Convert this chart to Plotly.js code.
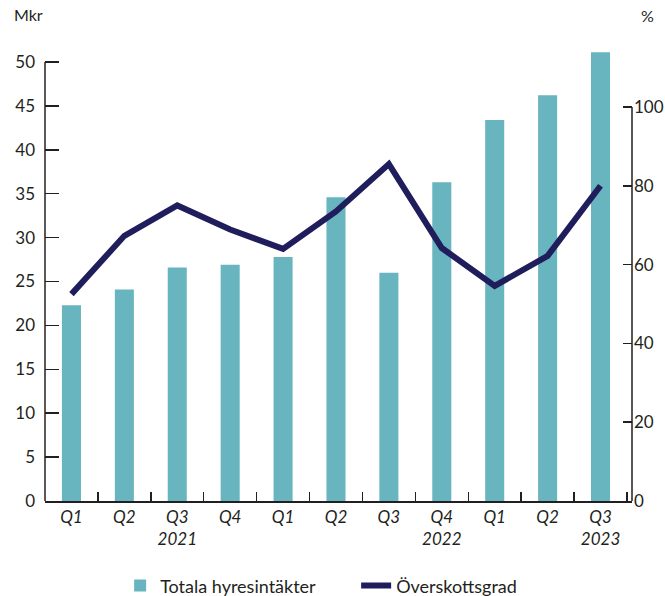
<!DOCTYPE html>
<html>
<head>
<meta charset="utf-8">
<script src="https://cdn.plot.ly/plotly-3.0.1.min.js"></script>
<style>html,body{margin:0;padding:0;background:#fff;}#chart{width:665px;height:596px;}</style>
</head>
<body>
<div id="chart"></div>
<script>
// Data
var categories = ["2021 Q1","2021 Q2","2021 Q3","2021 Q4","2022 Q1","2022 Q2","2022 Q3","2022 Q4","2023 Q1","2023 Q2","2023 Q3"];
var tickLabels = ["Q1","Q2","Q3<br>2021","Q4","Q1","Q2","Q3","Q4<br>2022","Q1","Q2","Q3<br>2023"];
var hyresintakter = [22.3, 24.1, 26.6, 26.9, 27.8, 34.6, 26.0, 36.3, 43.4, 46.2, 51.1];
var overskottsgrad = [52.5, 67.3, 75.0, 68.9, 64.0, 73.5, 85.5, 64.2, 54.6, 62.2, 80.0];
var leftTicks = [0,5,10,15,20,25,30,35,40,45,50];
var rightTicks = [0,20,40,60,80,100];
var seriesNames = ["Totala hyresintäkter","Överskottsgrad"];

var FONT = "Lato, 'Noto Sans', sans-serif";
var AX = "#231f20";
var barColor = "#69b5bf";
var lineColor = "#1f1d5b";

var traces = [
  {type:"bar", x:categories, y:hyresintakter, name:seriesNames[0],
   marker:{color:barColor}, width:0.36, yaxis:"y", hoverinfo:"skip"},
  {type:"scatter", mode:"lines", x:categories, y:overskottsgrad, name:seriesNames[1],
   line:{color:lineColor, width:6}, yaxis:"y2", hoverinfo:"skip"}
];

var rightMax = 117.0;
var leftMax = 52.5;

var layout = {
  width:665, height:596,
  margin:{l:45, r:33, t:40, b:95, autoexpand:false},
  paper_bgcolor:"#fff", plot_bgcolor:"#fff",
  font:{family:FONT, size:17, color:AX},
  showlegend:true,
  legend:{orientation:"h", x:0.128, xanchor:"left", y:-0.184, yanchor:"middle",
          font:{family:FONT, size:18, color:AX}, traceorder:"normal", itemwidth:30,
          entrywidth:191, entrywidthmode:"pixels"},
  bargap:0.64,
  xaxis:{type:"category", range:[-0.5, 10.595], tickvals:categories, ticktext:tickLabels,
         tickson:"boundaries", ticks:"inside", ticklen:9, tickwidth:1.5, tickcolor:AX,
         showline:true, linecolor:AX, linewidth:1.5, showgrid:false, zeroline:false,
         ticklabelstandoff:0,
         tickfont:{family:FONT, size:17, color:AX, style:"italic"}, fixedrange:true},
  yaxis:{range:[0,leftMax], tickvals:leftTicks, ticks:"inside", ticklen:14, tickwidth:1.5,
         tickcolor:AX, showline:false, showgrid:false, zeroline:false,
         ticklabelstandoff:9, tickfont:{family:FONT, size:17, color:AX}, fixedrange:true},
  yaxis2:{range:[0,rightMax], overlaying:"y", side:"right", tickvals:rightTicks, ticks:"inside",
          ticklen:9, tickwidth:1.5, tickcolor:AX, showline:false, showgrid:false, zeroline:false,
          ticklabelstandoff:1, tickfont:{family:FONT, size:17, color:AX}, fixedrange:true},
  yaxis3:{range:[0,rightMax], overlaying:"y", side:"right", tickvals:rightTicks, ticks:"outside",
          ticklen:5, tickwidth:1.5, tickcolor:AX, showticklabels:false, showline:false,
          showgrid:false, zeroline:false, fixedrange:true},
  shapes:[
    {type:"line", xref:"paper", yref:"y", x0:0, x1:0, y0:0, y1:50, line:{color:AX, width:1.5}},
    {type:"line", xref:"paper", yref:"y2", x0:1, x1:1, y0:0, y1:100, line:{color:AX, width:1.5}}
  ],
  annotations:[
    {text:"Mkr", xref:"paper", yref:"paper", x:-0.057, y:1.03, xanchor:"left", yanchor:"bottom",
     showarrow:false, font:{family:FONT, size:16, color:AX}},
    {text:"%", xref:"paper", yref:"paper", x:1.012, y:1.028, xanchor:"left", yanchor:"bottom",
     showarrow:false, font:{family:FONT, size:16, color:AX}}
  ]
};

Plotly.newPlot("chart", traces, layout, {staticPlot:true, displayModeBar:false});
</script>
</body>
</html>
